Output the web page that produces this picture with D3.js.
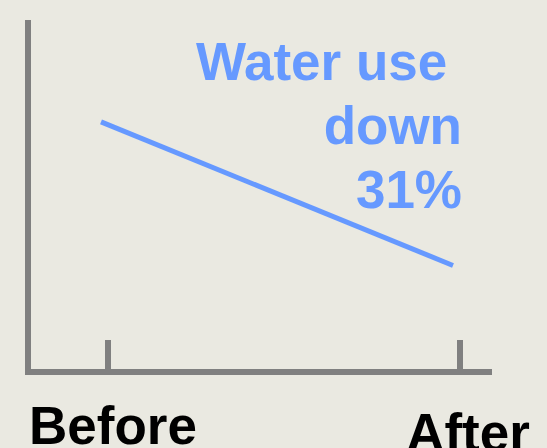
<!DOCTYPE html>
<html>
<head>
<meta charset="utf-8">
<script src="https://cdn.jsdelivr.net/npm/d3@7/dist/d3.min.js"></script>
<style>
  html, body { margin: 0; padding: 0; background: #eae9e1; }
  svg { display: block; }
  text { font-family: "Liberation Sans", Arial, sans-serif; font-weight: bold; }
</style>
</head>
<body>
<svg id="chart" width="547" height="448"></svg>
<script>
// Water use before and after
const categories = ["Before", "After"];
const waterUse = [100, 69];
const noteLines = ["Water use\u00a0", "down", "31%"];

const width = 547, height = 448;
const svg = d3.select("#chart");

svg.append("rect").attr("width", width).attr("height", height).attr("fill", "#eae9e1");

const x = d3.scalePoint().domain(categories).range([108, 460]);
const y = d3.scaleLinear().domain([46, 122]).range([372, 20]);

const axisColor = "#808080";
const blue = "#6699ff";

// Y axis line
svg.append("line")
  .attr("x1", 28).attr("x2", 28)
  .attr("y1", y.range()[1]).attr("y2", y.range()[0] + 3)
  .attr("stroke", axisColor).attr("stroke-width", 6);

// X axis line
svg.append("line")
  .attr("x1", 25).attr("x2", 492)
  .attr("y1", y.range()[0]).attr("y2", y.range()[0])
  .attr("stroke", axisColor).attr("stroke-width", 6);

// Tick marks
svg.selectAll("line.tick")
  .data(categories)
  .join("line")
  .attr("class", "tick")
  .attr("x1", d => x(d)).attr("x2", d => x(d))
  .attr("y1", 340).attr("y2", y.range()[0])
  .attr("stroke", axisColor).attr("stroke-width", 6);

// Category labels
const labelPos = { Before: { dx: 5, y: 444 }, After: { dx: 8, y: 451 } };
svg.selectAll("text.cat")
  .data(categories)
  .join("text")
  .attr("class", "cat")
  .attr("x", d => x(d) + labelPos[d].dx)
  .attr("y", d => labelPos[d].y)
  .attr("text-anchor", "middle")
  .attr("font-size", 53)
  .attr("fill", "#000")
  .text(d => d);

// Trend line
const line = d3.line()
  .x(d => x(d.c) - 7)
  .y(d => y(d.v));
svg.append("path")
  .datum(categories.map((c, i) => ({ c, v: waterUse[i] })))
  .attr("d", line)
  .attr("fill", "none")
  .attr("stroke", blue)
  .attr("stroke-width", 5);

// Annotation
svg.selectAll("text.note")
  .data(noteLines)
  .join("text")
  .attr("class", "note")
  .attr("x", 462)
  .attr("y", (d, i) => 80 + i * 64)
  .attr("text-anchor", "end")
  .attr("font-size", 53)
  .attr("fill", blue)
  .style("white-space", "pre")
  .text(d => d);
</script>
</body>
</html>
